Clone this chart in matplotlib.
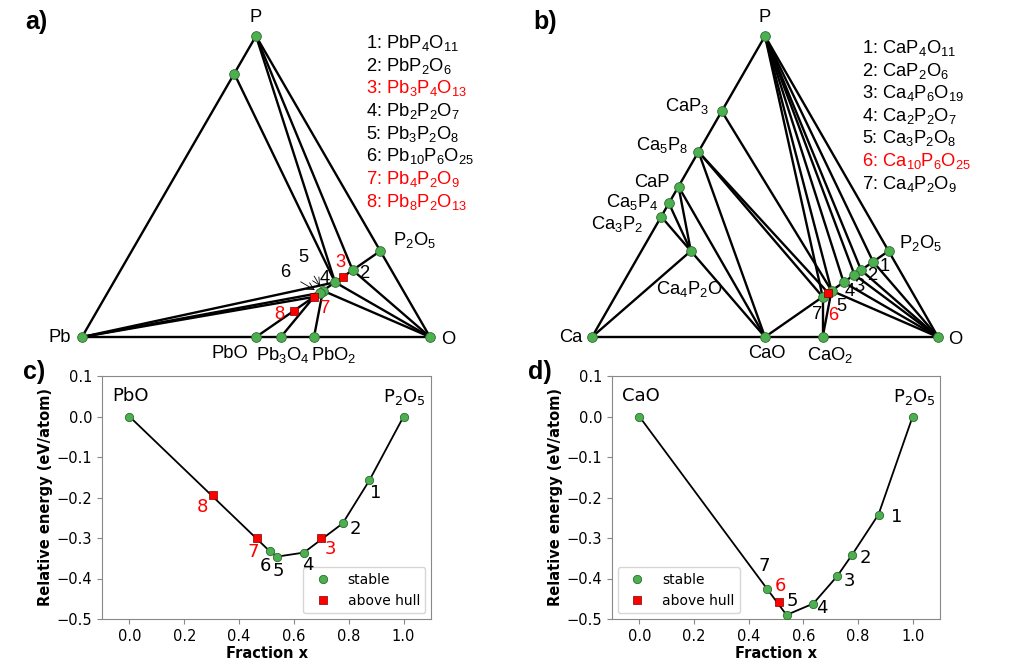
import re
import numpy as np
import matplotlib.pyplot as plt

plt.rcParams['mathtext.default'] = 'regular'

# ---------------- data ----------------
# ternary Pb-P-O : (Pb, P, O) atom counts
pb_names = ['Pb', 'P', 'O', 'PbP7', 'PbO', 'Pb3O4', 'PbO2', 'P2O5',
            '2', '3', '4', '5', '6', '7', '8']
pb_comp = [(1, 0, 0), (0, 1, 0), (0, 0, 1), (1, 7, 0), (1, 0, 1), (3, 0, 4),
           (1, 0, 2), (0, 2, 5), (1, 2, 6), (3, 4, 13), (2, 2, 7), (3, 2, 8),
           (10, 6, 25), (4, 2, 9), (8, 2, 13)]
pb_above = ['3', '7', '8']
pb_ties = [('Pb', 'P'), ('P', 'O'), ('Pb', 'O'), ('PbP7', '4'), ('P', '4'),
           ('P', '2'), ('PbO', 'P2O5'), ('2', 'O'), ('4', 'O'), ('5', 'O'),
           ('Pb', '4'), ('Pb', '6'), ('Pb', '7'), ('Pb3O4', '7'), ('PbO2', '5')]
pb_formulas = ['PbP4O11', 'PbP2O6', 'Pb3P4O13', 'Pb2P2O7', 'Pb3P2O8',
               'Pb10P6O25', 'Pb4P2O9', 'Pb8P2O13']

# ternary Ca-P-O : (Ca, P, O) atom counts
ca_names = ['Ca', 'P', 'O', 'CaP3', 'Ca5P8', 'CaP', 'Ca5P4', 'Ca3P2', 'Ca4P2O',
            'CaO', 'CaO2', 'P2O5', '1', '2', '3', '4', '5', '6', '7']
ca_comp = [(1, 0, 0), (0, 1, 0), (0, 0, 1), (1, 3, 0), (5, 8, 0), (1, 1, 0),
           (5, 4, 0), (3, 2, 0), (4, 2, 1), (1, 0, 1), (1, 0, 2), (0, 2, 5),
           (1, 4, 11), (1, 2, 6), (4, 6, 19), (2, 2, 7), (3, 2, 8),
           (10, 6, 25), (4, 2, 9)]
ca_above = ['6']
ca_ties = [('Ca', 'P'), ('P', 'O'), ('Ca', 'O'), ('Ca', 'Ca4P2O'),
           ('Ca3P2', 'Ca4P2O'), ('Ca5P4', 'Ca4P2O'), ('CaP', 'Ca4P2O'),
           ('CaP', 'CaO'), ('Ca4P2O', 'CaO'), ('Ca5P8', 'CaO'), ('Ca5P8', '6'),
           ('Ca5P8', '7'), ('CaP3', '5'), ('CaO', 'P2O5'), ('CaO2', '7'),
           ('CaO2', '5'), ('P', '1'), ('P', '2'), ('P', '3'), ('P', '4'),
           ('P', '5'), ('P', '7'), ('O', '1'), ('O', '2'), ('O', '3'),
           ('O', '4'), ('O', '5')]
ca_formulas = ['CaP4O11', 'CaP2O6', 'Ca4P6O19', 'Ca2P2O7', 'Ca3P2O8',
               'Ca10P6O25', 'Ca4P2O9']

# hull along MO - P2O5
pb_hull_names = ['PbO', '8', '7', '6', '5', '4', '3', '2', '1', 'P2O5']
pb_hull_x = [0, 7/23, 7/15, 21/41, 7/13, 7/11, 7/10, 7/9, 7/8, 1]
pb_hull_e = [0, -0.194, -0.301, -0.333, -0.346, -0.336, -0.301, -0.264, -0.158, 0]
pb_hull_stable = [True, False, False, True, True, True, False, True, True, True]

ca_hull_names = ['CaO', '7', '6', '5', '4', '3', '2', '1', 'P2O5']
ca_hull_x = [0, 7/15, 21/41, 7/13, 7/11, 21/29, 7/9, 7/8, 1]
ca_hull_e = [0, -0.425, -0.459, -0.490, -0.462, -0.394, -0.342, -0.242, 0]
ca_hull_stable = [True, True, False, True, True, True, True, True, True]

# ---------------- style ----------------
GREEN = '#4caf50'
DKGREEN = '#2e6b2e'
RED = '#ff0000'
DKRED = '#7a0000'
TFONT = 'Liberation Sans'
TSIZE = 13.2

# label offsets in pixels (dx, dy up)
pb_off = {'P': (0, 18), 'Pb': (-22, -1), 'O': (18, -3), 'PbO': (-26, -16),
          'Pb3O4': (2, -18), 'PbO2': (20, -18), 'P2O5': (34, 11), '2': (12, -3),
          '3': (-3, 14), '4': (-10, 4), '7': (11, -12), '8': (-15, -4)}
ca_off = {'P': (0, 18), 'Ca': (-21, -1), 'O': (17, -3), 'CaP3': (-35, 5),
          'Ca5P8': (-36, 7), 'CaP': (-27, 4), 'Ca5P4': (-37, 1),
          'Ca3P2': (-44, -7), 'Ca4P2O': (-1, -38), 'CaO': (2, -16),
          'CaO2': (8, -18), 'P2O5': (32, 8), '1': (12, -5), '2': (11, -5),
          '3': (5, -12), '4': (6, -9), '5': (10, -16), '6': (5, -23),
          '7': (-6, -18)}
pbh_off = {'PbO': (1, 21), 'P2O5': (1, 20), '8': (-10, -12), '7': (-4, -14),
           '6': (-4, -15), '5': (1, -14), '4': (4, -12), '3': (9, -11),
           '2': (13, -6), '1': (6, -13)}
cah_off = {'CaO': (2, 21), 'P2O5': (2, 20), '7': (-3, 23), '6': (1, 16),
           '5': (6, 14), '4': (9, -4), '3': (12, -5), '2': (13, -3),
           '1': (18, -2)}


def fmt(name):
    if name.isdigit():
        return name
    return re.sub(r'(\d+)', r'$_{\1}$', name)


def ternary_xy(comp):
    c = np.array(comp, dtype=float)
    c = c / c.sum()
    return c[2] + 0.5 * c[1], c[1] * np.sqrt(3) / 2


def ternary_panel(ax, names, comp, above, ties, offsets):
    pos = {n: ternary_xy(c) for n, c in zip(names, comp)}
    for a, b in ties:
        ax.plot([pos[a][0], pos[b][0]], [pos[a][1], pos[b][1]], color='k',
                lw=1.7, clip_on=False, zorder=1, solid_capstyle='round')
    for n in names:
        x, y = pos[n]
        if n in above:
            ax.plot(x, y, 's', ms=5.5, mfc=RED, mec=DKRED, mew=0.5,
                    clip_on=False, zorder=4)
        else:
            ax.plot(x, y, 'o', ms=7, mfc=GREEN, mec=DKGREEN, mew=0.6,
                    clip_on=False, zorder=3)
        if n in offsets:
            ax.annotate(fmt(n), (x, y), xytext=offsets[n],
                        textcoords='offset pixels', ha='center', va='center',
                        fontsize=TSIZE, family=TFONT,
                        color=RED if n in above else 'k')
    ax.set_xlim(0, 1)
    ax.set_ylim(0, np.sqrt(3) / 2)
    ax.axis('off')
    return pos


def hull_panel(ax, names, x, e, stable, offsets, loc):
    x = np.array(x)
    e = np.array(e)
    st = np.array(stable)
    ax.plot(x[st], e[st], color='k', lw=1.3, zorder=1)
    ax.plot(x[st], e[st], 'o', ms=6, mfc=GREEN, mec=DKGREEN, mew=0.6,
            ls='none', label='stable', zorder=3)
    ax.plot(x[~st], e[~st], 's', ms=5.5, mfc=RED, mec=DKRED, mew=0.5,
            ls='none', label='above hull', zorder=4)
    for n, xi, ei, s in zip(names, x, e, st):
        ax.annotate(fmt(n), (xi, ei), xytext=offsets[n],
                    textcoords='offset pixels', ha='center', va='center',
                    fontsize=13, color='k' if s else RED, zorder=6)
    ax.set_xlim(-0.1, 1.1)
    ax.set_ylim(-0.5, 0.1)
    ax.set_xticks(np.arange(0, 1.01, 0.2))
    ax.set_yticks(np.arange(-0.5, 0.11, 0.1))
    ax.tick_params(labelsize=10.5, color='#888888')
    for sp in ax.spines.values():
        sp.set_color('#888888')
    ax.set_xlabel('Fraction x', fontsize=10.5, fontweight='bold')
    ax.set_ylabel('Relative energy (eV/atom)', fontsize=10.5, fontweight='bold')
    ax.xaxis.set_label_coords(0.5, -0.113)
    ax.yaxis.set_label_coords(-0.15, 0.5)
    leg = ax.legend(loc=loc, fontsize=10, borderaxespad=0.4)
    leg.set_zorder(2)


def main():
    W, H = 1019, 661
    fig = plt.figure(figsize=(W / 100, H / 100), dpi=100)

    # a) Pb-P-O
    ax_a = fig.add_axes([82 / W, 1 - 337 / H, 348 / W, 301 / H])
    pos = ternary_panel(ax_a, pb_names, pb_comp, pb_above, pb_ties, pb_off)
    for lab, off in [('5', (-20, 33)), ('6', (-34, 20))]:
        ax_a.annotate(lab, pos[lab], xytext=off, textcoords='offset pixels',
                      ha='center', va='center', fontsize=TSIZE, family=TFONT,
                      arrowprops=dict(arrowstyle='->', lw=0.6, color='k',
                                      shrinkA=6, shrinkB=4))
    for i, f in enumerate(pb_formulas):
        fig.text(366 / W, 1 - (43 + 22.7 * i) / H, f'{i + 1}: {fmt(f)}',
                 fontsize=TSIZE, family=TFONT, va='center',
                 color=RED if i + 1 in [3, 7, 8] else 'k')

    # b) Ca-P-O
    ax_b = fig.add_axes([592 / W, 1 - 337 / H, 346 / W, 301 / H])
    ternary_panel(ax_b, ca_names, ca_comp, ca_above, ca_ties, ca_off)
    for i, f in enumerate(ca_formulas):
        fig.text(862 / W, 1 - (48 + 22.6 * i) / H, f'{i + 1}: {fmt(f)}',
                 fontsize=TSIZE, family=TFONT, va='center',
                 color=RED if i + 1 == 6 else 'k')

    # c) and d) hulls
    ax_c = fig.add_axes([102 / W, 1 - 619 / H, 329 / W, 243 / H])
    hull_panel(ax_c, pb_hull_names, pb_hull_x, pb_hull_e, pb_hull_stable,
               pbh_off, 'lower right')
    ax_d = fig.add_axes([612 / W, 1 - 619 / H, 328 / W, 243 / H])
    hull_panel(ax_d, ca_hull_names, ca_hull_x, ca_hull_e, ca_hull_stable,
               cah_off, 'lower left')

    for lab, (px, py) in zip(['a)', 'b)', 'c)', 'd)'],
                             [(36, 22), (545, 22), (34, 372), (540, 372)]):
        fig.text(px / W, 1 - py / H, lab, fontsize=18, fontweight='bold',
                 family=TFONT, ha='center', va='center')

    fig.savefig('out.png', dpi=100)


if __name__ == '__main__':
    main()
